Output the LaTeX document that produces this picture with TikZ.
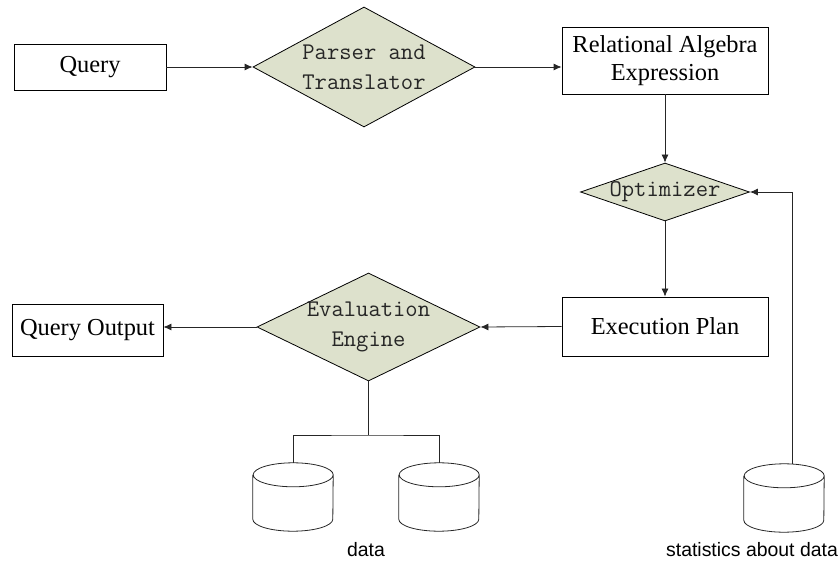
\documentclass[tikz,border=0pt]{standalone}
\usepackage{fontspec}
\setmainfont{Liberation Serif}
\setsansfont{Liberation Sans}
\usetikzlibrary{arrows.meta,positioning,shapes.geometric}
\definecolor{stepfill}{RGB}{221,225,204}

\begin{document}
\begin{tikzpicture}[
        x=1bp, y=-1bp,
        every node/.style={font=\fontsize{24.5}{28}\selectfont, align=center},
        box/.style={draw, line width=0.8bp, inner sep=0pt},
        decision/.style={diamond, draw, line width=0.8bp, fill=stepfill,
            inner sep=-2bp, text=black!85,
            font=\ttfamily\fontsize{24}{30}\selectfont},
        db/.style={minimum width=80bp, minimum height=68bp, inner sep=0pt},
        caption/.style={font=\sffamily\fontsize{19.5}{22}\selectfont},
        link/.style={draw, line width=0.8bp, black!85},
        arr/.style={link, -{Latex[length=8bp,width=7bp]}},
    ]
    \useasboundingbox (0,0) rectangle (839,561);

    % main flow
    \node[box, minimum width=152bp, minimum height=46bp] (query) at (90,67) {Query};
    \node[decision, aspect=1.85, minimum width=222bp, minimum height=120bp]
        (parse) at (364,67) {Parser and\\Translator};
    \node[box, minimum width=206bp, minimum height=67bp] (ra) at (665,60.5)
        {Relational Algebra\\Expression};
    \node[decision, aspect=2.9, minimum width=169bp, minimum height=58bp]
        (opt) at (665,192) {Optimizer};
    \node[box, minimum width=206bp, minimum height=59bp] (plan) at (665,326.5)
        {Execution Plan};
    \node[decision, aspect=2.06, inner ysep=-5bp, minimum width=223bp,
        minimum height=108bp] (eval) at (368.5,327) {Evaluation\\Engine};
    \node[box, minimum width=151bp, minimum height=52bp] (out) at (87.5,330)
        {Query Output};

    % storage
    \node[db] (db1) at (293,497) {};
    \node[db] (db2) at (439,497) {};
    \node[db] (stats) at (784,498) {};
    \foreach \c in {db1,db2,stats} {
        \draw[link] ([yshift=-12bp]\c.north west) -- ([yshift=12bp]\c.south west)
            arc[start angle=180, end angle=360, x radius=40bp, y radius=12bp]
            -- ([yshift=-12bp]\c.north east)
            arc[start angle=0, end angle=360, x radius=40bp, y radius=12bp];
    }
    \node[caption] (datalbl) at (366,550) {data};
    \node[caption] (statslbl) at (752,550) {statistics about data};
    \coordinate (split) at (368.5,435);

    \draw[arr] (query.east) -- (parse.west);
    \draw[arr] (parse.east) -- (parse.east -| ra.west);
    \draw[arr] (ra.south) -- (opt.north);
    \draw[arr] (opt.south) -- (plan.north);
    \draw[arr] (plan.west) -- (eval.east);
    \draw[arr] (eval.west) -- (eval.west -| out.east);
    \draw[link] (eval.south) -- (split);
    \draw[link] (db1.north) |- (split) -| (db2.north);
    \draw[arr] ([xshift=8bp]stats.north) |- (opt.east);
\end{tikzpicture}
\end{document}
